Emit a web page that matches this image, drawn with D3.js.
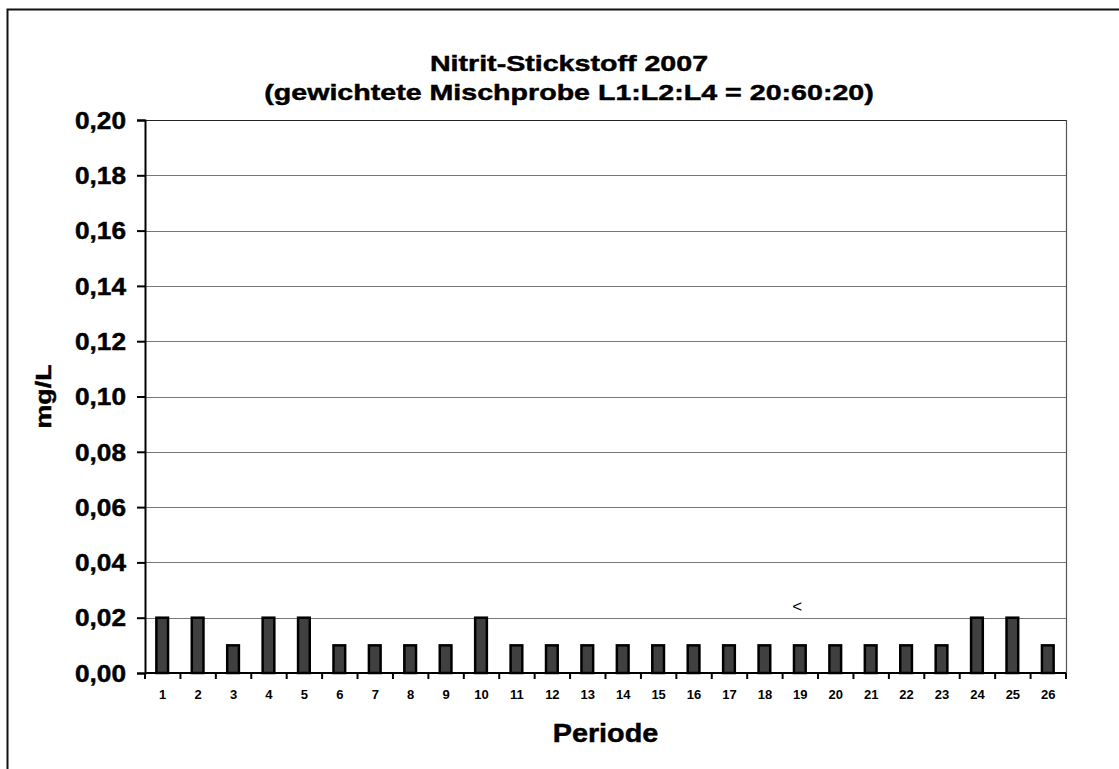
<!DOCTYPE html>
<html>
<head>
<meta charset="utf-8">
<script src="https://cdn.jsdelivr.net/npm/d3@7"></script>
<style>
  body { margin: 0; background: #fff; }
  text { font-family: Arial, "Liberation Sans", sans-serif; fill: #000; }
  text.heavy { stroke: #000; stroke-width: 0.45px; }
</style>
</head>
<body>
<div class="chartBox"></div>
<script>
var svgWidth = 1119;
var svgHeight = 769;

// plot area inside the svg
var margin = { top: 120, right: 53, bottom: 96, left: 145 };
var width = svgWidth - margin.left - margin.right;
var height = svgHeight - margin.top - margin.bottom;

// chart data
var periods = d3.range(1, 27).map(String);
var nitritValues = [0.02, 0.02, 0.01, 0.02, 0.02, 0.01, 0.01, 0.01, 0.01, 0.02,
                    0.01, 0.01, 0.01, 0.01, 0.01, 0.01, 0.01, 0.01, 0.01, 0.01,
                    0.01, 0.01, 0.01, 0.02, 0.02, 0.01];
var yTicks = [0, 0.02, 0.04, 0.06, 0.08, 0.10, 0.12, 0.14, 0.16, 0.18, 0.20];
var notePeriods = ["19"];
var noteLabels = ["<"];
var noteValues = [0.022];

var titleLines = ["Nitrit-Stickstoff 2007", "(gewichtete Mischprobe L1:L2:L4 = 20:60:20)"];

// the original's lettering is a bit wider than Arial, stretch it sideways
function widen(sel, factor) {
    sel.each(function() {
        var len = this.getComputedTextLength();
        d3.select(this)
            .attr("textLength", len * factor)
            .attr("lengthAdjust", "spacingAndGlyphs");
    });
}

var svg = d3.select(".chartBox")
    .append("svg")
    .attr("width", svgWidth)
    .attr("height", svgHeight);

// outer chart border (only top and left edges are in view)
svg.append("path")
    .attr("d", "M7.5," + svgHeight + " V9.5 H" + svgWidth)
    .attr("fill", "none")
    .attr("stroke", "#111")
    .attr("stroke-width", 2);

var chart = svg.append("g")
    .attr("transform", "translate(" + margin.left + "," + margin.top + ")");

var xBand = d3.scaleBand()
    .domain(periods)
    .range([0, width])
    .padding(0);

var yLinear = d3.scaleLinear()
    .domain([0, 0.20])
    .range([height, 0]);

// gridlines
chart.append("g")
    .selectAll("line")
    .data(yTicks.filter(function(d) { return d > 0; }))
    .enter().append("line")
    .attr("x1", 0)
    .attr("x2", width)
    .attr("y1", function(d) { return Math.round(yLinear(d)) + 0.5; })
    .attr("y2", function(d) { return Math.round(yLinear(d)) + 0.5; })
    .attr("stroke", function(d) { return d === 0.20 ? "#222" : "#777"; })
    .attr("stroke-width", 1);

// right edge of the plot area
chart.append("line")
    .attr("x1", width + 0.5).attr("x2", width + 0.5)
    .attr("y1", 0).attr("y2", height)
    .attr("stroke", "#555")
    .attr("stroke-width", 1.2);

// bars
var barWidth = xBand.bandwidth() * 0.33;
chart.append("g")
    .selectAll("rect")
    .data(nitritValues)
    .enter().append("rect")
    .attr("x", function(d, i) { return xBand(periods[i]) + (xBand.bandwidth() - barWidth) / 2 - 0.5; })
    .attr("y", function(d) { return yLinear(d); })
    .attr("width", barWidth)
    .attr("height", function(d) { return height - yLinear(d); })
    .attr("fill", "#404040")
    .attr("stroke", "#000")
    .attr("stroke-width", 2.5);

// y axis
var leftAxis = d3.axisLeft(yLinear)
    .tickValues(yTicks)
    .tickSize(8)
    .tickPadding(11)
    .tickFormat(function(d) { return d3.format(".2f")(d).replace(".", ","); });

var yAxis = chart.append("g").call(leftAxis);
yAxis.select(".domain").attr("stroke", "#000").attr("stroke-width", 2);
yAxis.selectAll(".tick line").attr("stroke", "#000").attr("stroke-width", 2);
yAxis.selectAll(".tick text")
    .attr("class", "heavy")
    .style("font-size", "23px")
    .style("font-weight", "bold")
    .attr("dy", "0.36em")
    .call(widen, 1.14);

// x axis with ticks at the band edges
var xAxisG = chart.append("g").attr("transform", "translate(0," + height + ")");
xAxisG.append("line")
    .attr("x1", 0).attr("x2", width)
    .attr("stroke", "#000").attr("stroke-width", 2);
xAxisG.selectAll(".xtick")
    .data(periods.concat(["end"]))
    .enter().append("line")
    .attr("class", "xtick")
    .attr("x1", function(d) { return d === "end" ? width : xBand(d); })
    .attr("x2", function(d) { return d === "end" ? width : xBand(d); })
    .attr("y1", 0).attr("y2", 6)
    .attr("stroke", "#000").attr("stroke-width", 2);
xAxisG.selectAll(".xlabel")
    .data(periods)
    .enter().append("text")
    .attr("class", "xlabel")
    .attr("x", function(d) { return xBand(d) + xBand.bandwidth() / 2; })
    .attr("y", 26)
    .attr("text-anchor", "middle")
    .style("font-size", "13px")
    .style("font-weight", "bold")
    .text(function(d) { return d; });

// note above period 19
chart.selectAll(".note")
    .data(noteLabels)
    .enter().append("text")
    .attr("class", "note")
    .attr("x", function(d, i) { return xBand(notePeriods[i]) + xBand.bandwidth() / 2 - 3; })
    .attr("y", function(d, i) { return yLinear(noteValues[i]); })
    .attr("text-anchor", "middle")
    .style("font-size", "17px")
    .text(function(d) { return d; });

// axis titles
chart.append("text")
    .attr("class", "heavy")
    .attr("transform", "rotate(-90)")
    .attr("x", -height / 2)
    .attr("y", -margin.left + 51)
    .attr("text-anchor", "middle")
    .style("font-size", "22px")
    .style("font-weight", "bold")
    .text("mg/L")
    .call(widen, 1.22);

chart.append("text")
    .attr("class", "heavy")
    .attr("x", width / 2)
    .attr("y", height + 69)
    .attr("text-anchor", "middle")
    .style("font-size", "25px")
    .style("font-weight", "bold")
    .text("Periode")
    .call(widen, 1.15);

// title
svg.append("g")
    .selectAll("text")
    .data(titleLines)
    .enter().append("text")
    .attr("class", "heavy")
    .attr("x", 569)
    .attr("y", function(d, i) { return 71 + i * 29; })
    .attr("text-anchor", "middle")
    .style("font-size", "22px")
    .style("font-weight", "bold")
    .text(function(d) { return d; })
    .call(widen, 1.3);
</script>
</body>
</html>
